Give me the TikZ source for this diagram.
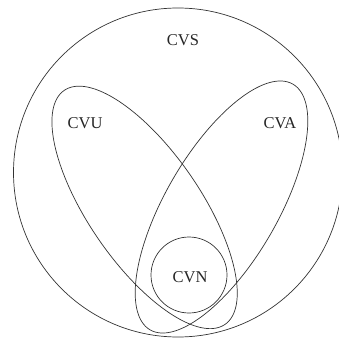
\documentclass[tikz,border=0pt]{standalone}
\usepackage{fontspec}
\setmainfont{Liberation Serif}
\begin{document}
\begin{tikzpicture}[x=1pt,y=-1pt,
  setline/.style={draw=black!80,line width=0.7pt},
  lbl/.style={font=\fontsize{16.5}{18}\selectfont,text=black!85,inner sep=0pt}]
\useasboundingbox (0,0) rectangle (339,342);
\clip (0,0) rectangle (339,342);
\node[setline,circle,minimum size=329pt,inner sep=0pt] (cvs) at (178,172.5) {};
\node[setline,circle,minimum size=76pt,inner sep=0pt] (cvn) at (189,275) {};
% CVU ellipse
\draw[setline] plot[domain=0:360,samples=181,smooth,variable=\t]
  ({144.6 + 142*cos(\t)*0.566 + 56*sin(\t)*0.824},
   {207.4 + 142*cos(\t)*0.824 - 56*sin(\t)*0.566}) -- cycle;
% CVA ellipse
\draw[setline] plot[domain=0:360,samples=181,smooth,variable=\t]
  ({221.5 - 142*cos(\t)*0.503 + 56*sin(\t)*0.865},
   {207 + 142*cos(\t)*0.865 + 56*sin(\t)*0.503}) -- cycle;
\node[lbl] (tcvs) at (183,40) {CVS};
\node[lbl] (tcvu) at (85,123) {CVU};
\node[lbl] (tcva) at (280,123) {CVA};
\node[lbl] (tcvn) at (190,277) {CVN};
\end{tikzpicture}
\end{document}
